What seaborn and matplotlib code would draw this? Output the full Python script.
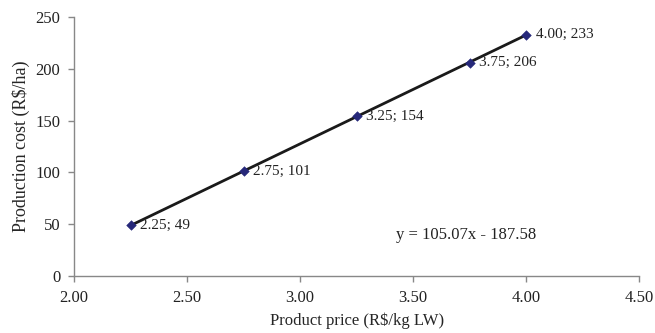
import matplotlib
matplotlib.use("Agg")
import matplotlib.pyplot as plt
import seaborn as sns
import numpy as np
import pandas as pd

# Product price (R$/kg LW) and production cost (R$/ha)
price = [2.25, 2.75, 3.25, 3.75, 4.00]
cost = [49, 101, 154, 206, 233]
point_labels = ["2.25; 49", "2.75; 101", "3.25; 154", "3.75; 206", "4.00; 233"]
equation = "y = 105.07x - 187.58"
x_ticks = [2.00, 2.50, 3.00, 3.50, 4.00, 4.50]
y_ticks = [0, 50, 100, 150, 200, 250]

df = pd.DataFrame({"price": price, "cost": cost})

sns.set_style("ticks")
plt.rcParams["font.family"] = ["Liberation Serif", "DejaVu Serif"]
plt.rcParams["font.size"] = 11

fig = plt.figure(figsize=(6.55, 3.33), dpi=100)
ax = fig.add_axes([0.113, 0.171, 0.863, 0.778])

# Linear trend line through the points
sns.regplot(data=df, x="price", y="cost", ax=ax, ci=None, scatter=False,
            truncate=True, line_kws={"color": "#1a1a1a", "lw": 2.0})
sns.scatterplot(data=df, x="price", y="cost", ax=ax, marker="D", s=24,
                color="#26287a", edgecolor="#26287a", zorder=3)

for xv, yv, lab in zip(price, cost, point_labels):
    ax.annotate(lab, (xv, yv), xytext=(7, 0), textcoords="offset points",
                va="center", ha="left", fontsize=11, color="#222222")

ax.text(3.735, 39.5, equation, ha="center", va="center", fontsize=12, color="#222222")

ax.set_xlim(2.0, 4.5)
ax.set_ylim(0, 250)
ax.set_xticks(x_ticks)
ax.set_xticklabels([f"{v:.2f}" for v in x_ticks])
ax.set_yticks(y_ticks)
ax.set_yticklabels([str(v) for v in y_ticks])
ax.set_xlabel("Product price (R$/kg LW)", fontsize=12, labelpad=5)
ax.set_ylabel("Production cost (R$/ha)", fontsize=13, labelpad=4)

for side in ["top", "right"]:
    ax.spines[side].set_visible(False)
for side in ["left", "bottom"]:
    ax.spines[side].set_color("#888888")
    ax.spines[side].set_linewidth(1.0)
ax.tick_params(axis="both", direction="out", length=4, width=1.0,
               color="#888888", labelsize=12, labelcolor="#222222")
ax.tick_params(axis="x", pad=6)
ax.tick_params(axis="y", pad=6)

fig.savefig("out.png", dpi=100)
